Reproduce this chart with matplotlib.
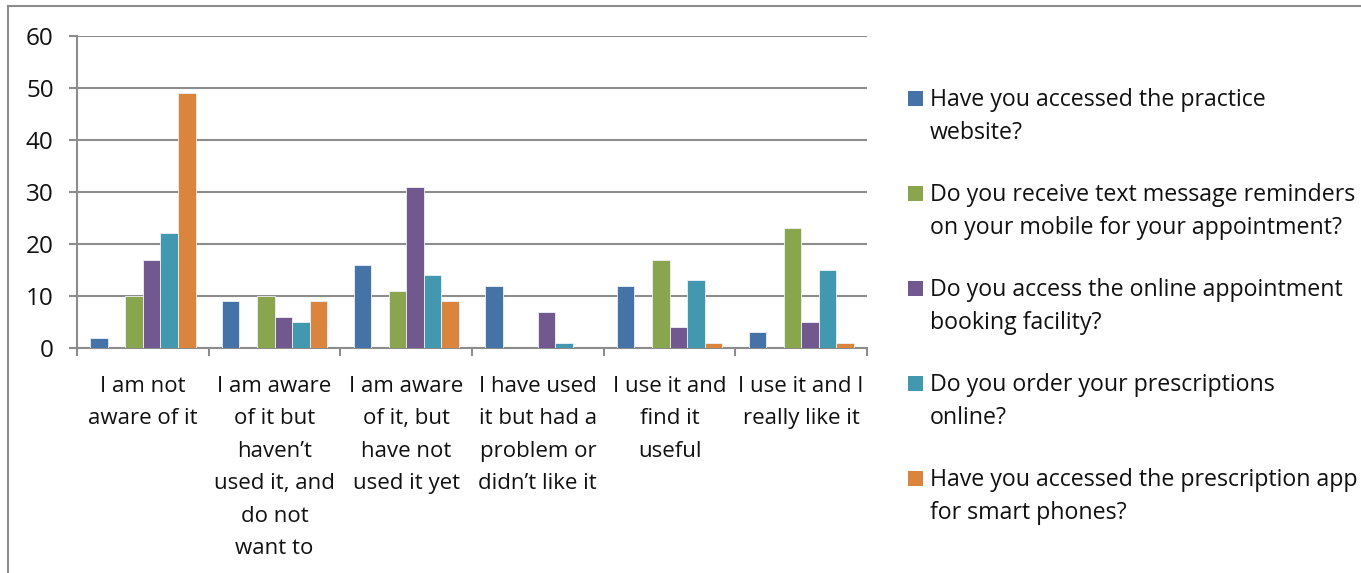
import numpy as np
import matplotlib
matplotlib.use("Agg")
import matplotlib.pyplot as plt
from matplotlib.patches import Rectangle
from matplotlib.lines import Line2D

plt.rcParams["font.family"] = ["Open Sans", "DejaVu Sans"]

categories = [
    "I am not\naware of it",
    "I am aware\nof it but\nhaven\u2019t\nused it, and\ndo not\nwant to",
    "I am aware\nof it, but\nhave not\nused it yet",
    "I have used\nit but had a\nproblem or\ndidn\u2019t like it",
    "I use it and\nfind it\nuseful",
    "I use it and I\nreally like it",
]

series_names = [
    "Have you accessed the practice\nwebsite?",
    "",  # unnamed series, all zero, kept out of the legend
    "Do you receive text message reminders\non your mobile for your appointment?",
    "Do you access the online appointment\nbooking facility?",
    "Do you order your prescriptions\nonline?",
    "Have you accessed the prescription app\nfor smart phones?",
]

website = [2, 9, 16, 12, 12, 3]
unnamed = [0, 0, 0, 0, 0, 0]
text_reminders = [10, 10, 11, 0, 17, 23]
online_booking = [17, 6, 31, 7, 4, 5]
prescriptions_online = [22, 5, 14, 1, 13, 15]
prescription_app = [49, 9, 9, 0, 1, 1]

series_values = [website, unnamed, text_reminders, online_booking,
                 prescriptions_online, prescription_app]
colors = ["#4572A7", "#AA4643", "#89A54E", "#71588F", "#4198AF", "#DB843D"]

GRID = "#8c8c8c"
INK = "#111111"
W, H = 1361, 573

fig = plt.figure(figsize=(W / 100, H / 100), dpi=100)
ax = fig.add_axes([77 / W, 1 - 348 / H, 790 / W, (348 - 35.7) / H])

n_series = len(series_values)
gap = 1.5
bw = 1.0 / (n_series + gap)
x = np.arange(len(categories)) + 0.5
for i, (vals, col) in enumerate(zip(series_values, colors)):
    offs = (i - (n_series - 1) / 2) * bw
    ax.bar(x + offs, vals, width=bw, color=col, edgecolor="#eef2f8",
           linewidth=0.6, zorder=3)

ax.set_xlim(0, len(categories))
ax.set_ylim(0, 60)
ax.set_yticks(np.arange(0, 61, 10))
ax.yaxis.grid(True, color=GRID, linewidth=1.5, zorder=1)
ax.set_axisbelow(True)

for s in ("top", "right"):
    ax.spines[s].set_visible(False)
for s in ("left", "bottom"):
    ax.spines[s].set_color(GRID)
    ax.spines[s].set_linewidth(1.5)

ax.set_xticks(np.arange(0, len(categories) + 1))
ax.set_xticklabels([])
ax.tick_params(axis="x", which="major", direction="out", length=5.8,
               width=1.5, color=GRID)
ax.set_xticks(x, minor=True)
ax.set_xticklabels(categories, minor=True, fontsize=16, linespacing=1.72,
                   color=INK)
ax.tick_params(axis="x", which="minor", length=0, pad=20)
ax.tick_params(axis="y", direction="out", length=5.8, width=1.5, color=GRID,
               labelsize=17.5, pad=11, labelcolor=INK)

# legend drawn by hand: square next to first line of each entry
leg_x = 908
leg_y0 = 98
leg_step = 95
line_step = 33
row = 0
for name, col in zip(series_names, colors):
    if not name:
        continue
    yc = leg_y0 + row * leg_step
    fig.patches.append(Rectangle((leg_x / W, 1 - (yc + 7.5) / H), 15 / W, 15 / H,
                                 transform=fig.transFigure, facecolor=col,
                                 edgecolor="none"))
    for k, line in enumerate(name.split("\n")):
        fig.text((leg_x + 22) / W, 1 - (yc + 8 + k * line_step) / H, line,
                 fontsize=16.7, va="baseline", ha="left", color=INK)
    row += 1

# chart area border
fig.lines.append(Line2D([8 / W, 1], [1 - 6 / H] * 2,
                        transform=fig.transFigure, color=GRID, linewidth=1.5))
fig.lines.append(Line2D([8 / W] * 2, [0, 1 - 6 / H],
                        transform=fig.transFigure, color=GRID, linewidth=1.5))

fig.savefig("out.png", dpi=100, facecolor="white")
